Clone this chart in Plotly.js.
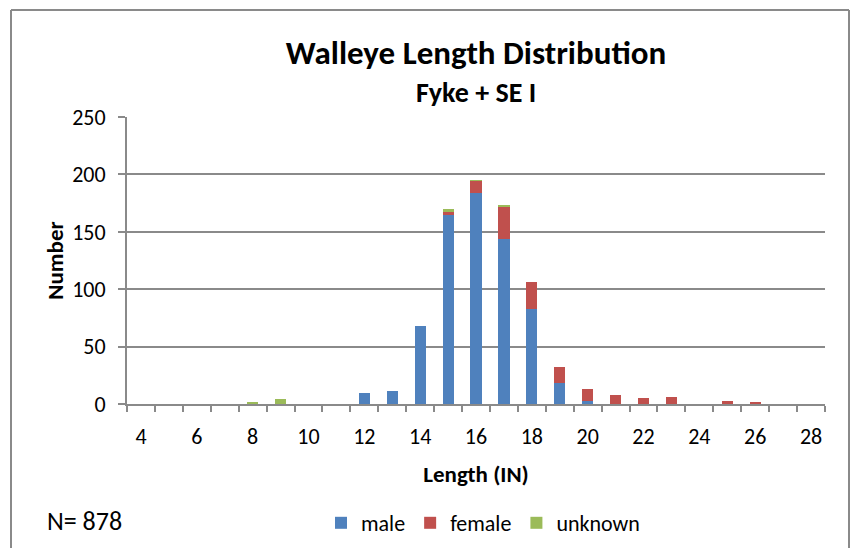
<!DOCTYPE html>
<html>
<head>
<meta charset="utf-8">
<script src="https://cdn.plot.ly/plotly-3.0.1.min.js"></script>
<style>html,body{margin:0;padding:0;background:#fff;}#chart{width:861px;height:548px;}</style>
</head>
<body>
<div id="chart"></div>
<script>
const lengths = ['4','5','6','7','8','9','10','11','12','13','14','15','16','17','18','19','20','21','22','23','24','25','26','27','28'];
const male    = [0,0,0,0,0,0,0,0,10,11,68,165,184,144,83,18,3,0,0,0,0,0,0,0,0];
const female  = [0,0,0,0,0,0,0,0,0,0,0,2,10,28,23,14,10,8,5,6,0,3,2,0,0];
const unknown = [0,0,0,0,2,4,0,0,0,0,0,3,1,1,0,0,0,0,0,0,0,0,0,0,0];
const seriesNames = ['male','female','unknown'];
const seriesColors = ['#4F81BD','#C0504D','#9BBB59'];
const titleText = 'Walleye Length Distribution';
const subtitleText = 'Fyke + SE I';
const nText = 'N= 878';

const FONT = 'Carlito, Calibri, "Liberation Sans Narrow", "DejaVu Sans Condensed", sans-serif';
const GRID = '#8a8a8a';

const data = [male, female, unknown].map((vals, i) => ({
  type: 'bar',
  name: seriesNames[i],
  x: lengths,
  y: vals,
  marker: {color: seriesColors[i], line: {width: 0}},
  hoverinfo: 'x+y+name'
}));

const layout = {
  width: 861, height: 548,
  paper_bgcolor: '#ffffff', plot_bgcolor: '#ffffff',
  barmode: 'stack',
  bargap: 0.6,
  margin: {l: 127, r: 36, t: 117, b: 144, pad: 0, autoexpand: false},
  font: {family: FONT, color: '#000000', size: 22},
  title: {
    text: '<b>' + titleText + '</b>',
    font: {family: FONT, size: 33, color: '#000'},
    x: 0.5, xanchor: 'center', xref: 'paper',
    y: 1 - 52/548, yanchor: 'middle', yref: 'container'
  },
  xaxis: {
    type: 'category',
    categoryorder: 'array', categoryarray: lengths,
    tickson: 'boundaries',
    ticks: 'outside', ticklen: 6, tickwidth: 2, tickcolor: GRID,
    ticklabelstep: 2, tickangle: 0,
    ticklabelstandoff: 12,
    showline: true, linecolor: GRID, linewidth: 2,
    showgrid: false, zeroline: false,
    automargin: false,
    tickfont: {family: FONT, size: 22, color: '#000'},
    title: {text: '<b>Length (IN)</b>', font: {family: FONT, size: 23, color: '#000'}, standoff: 16},
    fixedrange: true
  },
  yaxis: {
    range: [0, 250], dtick: 50, tick0: 0,
    ticks: 'outside', ticklen: 7, tickwidth: 2, tickcolor: GRID,
    ticklabelstandoff: 8,
    showline: true, linecolor: GRID, linewidth: 2,
    showgrid: true, gridcolor: GRID, gridwidth: 2,
    zeroline: false,
    automargin: false,
    tickfont: {family: FONT, size: 22, color: '#000'},
    title: {text: '<b>Number</b>', font: {family: FONT, size: 23, color: '#000'}, standoff: 2},
    fixedrange: true
  },
  legend: {
    orientation: 'h',
    x: 0.51, xanchor: 'center',
    y: (404-523)/287, yanchor: 'middle',
    font: {family: FONT, size: 22, color: '#000'},
    traceorder: 'normal'
  },
  annotations: [
    {text: '<b>' + subtitleText + '</b>', xref: 'paper', yref: 'paper',
     x: 0.5, y: (404-92)/287, xanchor: 'center', yanchor: 'middle', showarrow: false,
     font: {family: FONT, size: 28, color: '#000'}},
    {text: nText, xref: 'paper', yref: 'paper',
     x: (45-127)/698, y: (404-521)/287, xanchor: 'left', yanchor: 'middle', showarrow: false,
     font: {family: FONT, size: 26, color: '#000'}}
  ],
  shapes: [
    {type: 'line', xref: 'paper', yref: 'paper', x0: (11-127)/698, x1: (11-127)/698, y0: (404-10)/287, y1: -0.7, line: {color: GRID, width: 2}},
    {type: 'line', xref: 'paper', yref: 'paper', x0: (11-127)/698, x1: (849-127)/698, y0: (404-10)/287, y1: (404-10)/287, line: {color: GRID, width: 2}},
    {type: 'line', xref: 'paper', yref: 'paper', x0: (849-127)/698, x1: (849-127)/698, y0: (404-10)/287, y1: -0.7, line: {color: GRID, width: 2}}
  ],
  showlegend: true
};

Plotly.newPlot('chart', data, layout, {displayModeBar: false, staticPlot: true});
</script>
</body>
</html>
